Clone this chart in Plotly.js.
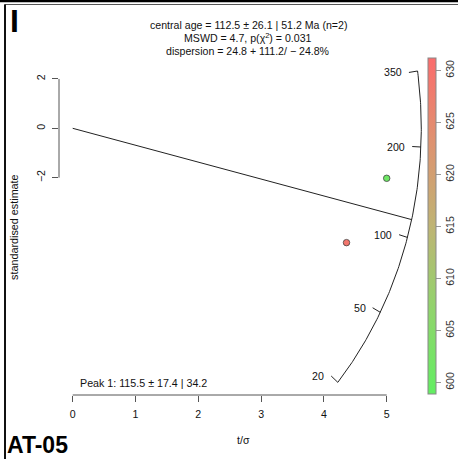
<!DOCTYPE html>
<html>
<head>
<meta charset="utf-8">
<script src="https://cdn.plot.ly/plotly-3.0.1.min.js"></script>
<style>
  html, body { margin: 0; padding: 0; background: #fff; }
  #chart { width: 458px; height: 459px; }
</style>
</head>
<body>
<div id="chart"></div>
<script>
// Radial plot of sample AT-05: two single-grain ages
const grainAges = [152.9, 79.2];          // Ma
const grainPrecision = [5.00, 4.36];      // t/sigma
const grainColourValues = [601, 629];     // colour covariate
const scaleAges = [20, 50, 100, 200, 350];
const scaleLabels = ['20', '50', '100', '200', '350'];
const peakAge = 115.5;
const colourTicks = [600, 605, 610, 615, 620, 625, 630];

// reference value of the log-age transform and arc semi-axes (t/sigma, standardised units)
const z0 = Math.log(229.3);
const arcA = 5.551, arcB = 15.86;

function arcPoint(t) {
  const m = Math.log(t) - z0;
  const x = 1 / Math.sqrt(1 / (arcA * arcA) + (m * m) / (arcB * arcB));
  return [x, m * x];
}

// plot-area geometry in pixels (the colour bar sits inside the plot area)
const W = 458, H = 459;
const M = { l: 59, r: 0, t: 50, b: 64 };
const PW = W - M.l - M.r, PH = H - M.t - M.b;
const px = v => (v - M.l) / PW;          // pixel x -> paper
const py = v => (H - M.b - v) / PH;      // pixel y -> paper
const X0 = 72.7, XS = 62.8;              // pixel of t/sigma = 0, pixels per unit
const Y0 = 128.3, YS = 24.67;            // pixel of estimate = 0, pixels per unit

// arc from the youngest to the oldest scale age
const arcX = [], arcY = [];
const tMin = scaleAges[0], tMax = scaleAges[scaleAges.length - 1];
for (let i = 0; i <= 160; i++) {
  const t = tMin * Math.pow(tMax / tMin, i / 160);
  const p = arcPoint(t);
  arcX.push(p[0]); arcY.push(p[1]);
}

// inward tick marks on the arc
const tickX = [], tickY = [];
scaleAges.forEach(t => {
  const p = arcPoint(t);
  tickX.push(p[0], p[0] * 0.975, null);
  tickY.push(p[1], p[1] * 0.975, null);
});

const peakEnd = arcPoint(peakAge);

const gx = grainPrecision;
const gy = grainAges.map((t, i) => (Math.log(t) - z0) * grainPrecision[i]);

const colourscale = [
  [0, '#62ee62'], [0.25, '#90d46c'], [0.5, '#bfb474'], [0.75, '#de9270'], [1, '#fb6c6c']
];

const traces = [
  { x: arcX, y: arcY, mode: 'lines', line: { color: '#222', width: 1 }, hoverinfo: 'skip', showlegend: false },
  { x: tickX, y: tickY, mode: 'lines', line: { color: '#222', width: 1 }, hoverinfo: 'skip', showlegend: false },
  { x: [0, peakEnd[0]], y: [0, peakEnd[1]], mode: 'lines', line: { color: '#222', width: 1 }, showlegend: false },
  {
    x: gx, y: gy, mode: 'markers', showlegend: false,
    marker: {
      size: 6.5, color: grainColourValues, colorscale: colourscale,
      cmin: 598.9, cmax: 631.2, line: { color: '#444', width: 0.8 },
      showscale: true,
      colorbar: {
        thickness: 8, thicknessmode: 'pixels',
        len: 336, lenmode: 'pixels',
        x: px(428), xanchor: 'left', xpad: 0,
        y: py(58), yanchor: 'top', ypad: 0,
        outlinewidth: 1, outlinecolor: '#888',
        tickvals: colourTicks, ticks: 'outside', ticklen: 5, tickwidth: 1, tickcolor: '#999',
        tickangle: -90, tickfont: { size: 10.6, color: '#333' }
      }
    }
  }
];

const font = 'Liberation Sans, Arial, sans-serif';
const annotations = [
  { text: 'central age = 112.5 ± 26.1 | 51.2 Ma (n=2)', x: px(248), y: py(25.3) },
  { text: 'MSWD = 4.7, p(χ<sup>2</sup>) = 0.031', x: px(248), y: py(37.5) },
  { text: 'dispersion = 24.8 + 111.2/ − 24.8%', x: px(248), y: py(51) },
].map(a => Object.assign({ xref: 'paper', yref: 'paper', showarrow: false, xanchor: 'center', yanchor: 'middle',
  font: { family: font, size: 10.6, color: '#111' } }, a));

annotations.push(
  { text: 'Peak 1: 115.5 ± 17.4 | 34.2', xref: 'paper', yref: 'paper', x: px(78), y: py(383), xanchor: 'left', yanchor: 'middle',
    showarrow: false, font: { family: font, size: 10.7, color: '#111' } },
  // axis titles
  { text: 't/σ', xref: 'paper', yref: 'paper', x: px(243), y: py(440), xanchor: 'center', yanchor: 'middle',
    showarrow: false, font: { family: font, size: 10.6, color: '#111' } },
  { text: 'standardised estimate', xref: 'paper', yref: 'paper', x: px(14), y: py(227), xanchor: 'center', yanchor: 'middle',
    textangle: -90, showarrow: false, font: { family: font, size: 10.8, color: '#111' } },
  // panel labels
  { text: '<b>I</b>', xref: 'paper', yref: 'paper', x: px(7.5), y: py(21), xanchor: 'left', yanchor: 'middle',
    showarrow: false, font: { family: font, size: 32, color: '#000' } },
  { text: '<b>AT-05</b>', xref: 'paper', yref: 'paper', x: px(5), y: py(445), xanchor: 'left', yanchor: 'middle',
    showarrow: false, font: { family: font, size: 23, color: '#000' } }
);

scaleAges.forEach((t, i) => {
  const p = arcPoint(t);
  annotations.push({ text: scaleLabels[i], x: p[0] * 0.975, y: p[1] * 0.975, xref: 'x', yref: 'y',
    xanchor: 'right', yanchor: 'middle', xshift: -5, showarrow: false,
    font: { family: font, size: 10.6, color: '#111' } });
});

const shapes = [
  // axis lines spanning the tick range only
  { type: 'line', xref: 'x', yref: 'paper', x0: 0, x1: 5, y0: 0, y1: 0, line: { color: '#555', width: 1 } },
  { type: 'line', xref: 'paper', yref: 'y', x0: 0, x1: 0, y0: -2, y1: 2, line: { color: '#555', width: 1 } },
  // panel frame
  { type: 'line', xref: 'paper', yref: 'paper', x0: px(0), x1: px(458), y0: py(1), y1: py(1), line: { color: '#000', width: 2.5 } },
  { type: 'line', xref: 'paper', yref: 'paper', x0: px(4.5), x1: px(458), y0: py(4.5), y1: py(4.5), line: { color: '#555', width: 1 } },
  { type: 'line', xref: 'paper', yref: 'paper', x0: px(5), x1: px(5), y0: py(4.5), y1: py(459), line: { color: '#111', width: 2 } }
];

const layout = {
  width: W, height: H, margin: M,
  paper_bgcolor: '#fff', plot_bgcolor: 'rgba(0,0,0,0)',
  font: { family: font, color: '#111' },
  showlegend: false,
  xaxis: {
    range: [-(X0 - M.l) / XS, (W - M.r - X0) / XS],
    tickvals: [0, 1, 2, 3, 4, 5], ticks: 'outside', ticklen: 6, tickcolor: '#555', tickwidth: 1,
    ticklabelstandoff: 3, automargin: false,
    showgrid: false, zeroline: false, showline: false,
    tickfont: { family: font, size: 10.6, color: '#111' }
  },
  yaxis: {
    range: [-(H - M.b - Y0) / YS, (Y0 - M.t) / YS],
    tickvals: [-2, 0, 2], ticktext: ['−2', '0', '2'], ticks: 'outside', ticklen: 6, tickcolor: '#555', tickwidth: 1,
    tickangle: -90, ticklabelstandoff: 3, automargin: false,
    showgrid: false, zeroline: false, showline: false,
    tickfont: { family: font, size: 10.6, color: '#111' }
  },
  annotations: annotations,
  shapes: shapes
};

Plotly.newPlot('chart', traces, layout, { displayModeBar: false, staticPlot: true });
</script>
</body>
</html>
